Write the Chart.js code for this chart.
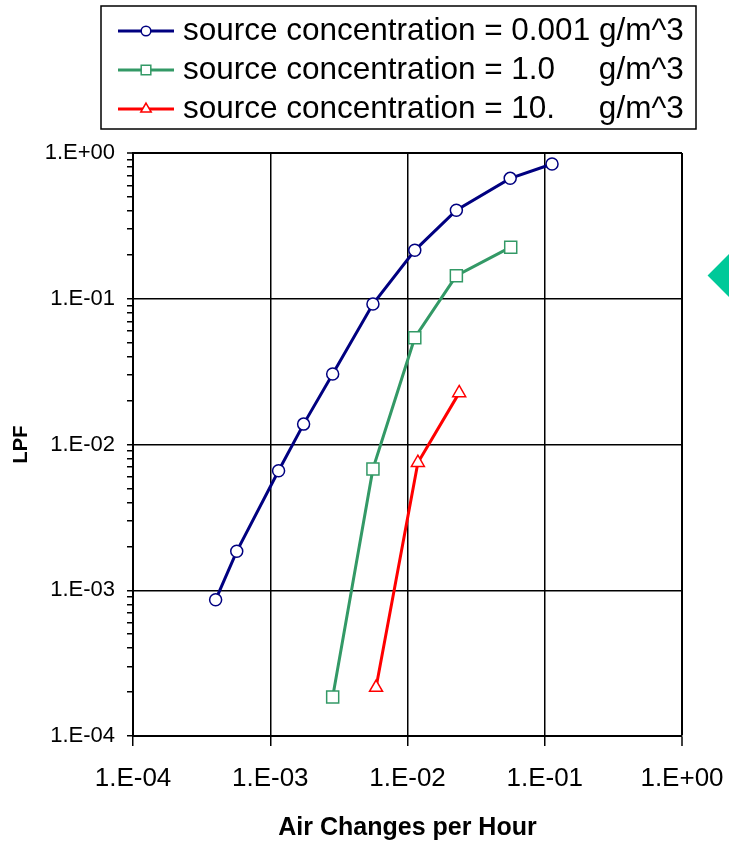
<!DOCTYPE html>
<html lang="en">
<head>
    <meta charset="UTF-8">
    <title>LPF vs Air Changes per Hour</title>
    <style>
        body {
            margin: 0;
            background: #fff;
            overflow: hidden;
        }

        .wrap {
            position: relative;
            width: 729px;
            height: 841px;
            overflow: hidden;
        }

        /* green diamond peeking in at the right edge */
        .diamond {
            position: absolute;
            left: 714px;
            top: 260px;
            width: 31px;
            height: 31px;
            background: #00c999;
            transform: rotate(45deg);
        }
    </style>
</head>
<body>
    <div class="wrap">
        <canvas id="lpfChart" width="729" height="841"></canvas>
        <div class="diamond"></div>
    </div>

    <script src="https://cdn.jsdelivr.net/npm/chart.js"></script>
    <script>
        // series labels
        const seriesLabels = [
            'source concentration = 0.001 g/m^3',
            'source concentration = 1.0     g/m^3',
            'source concentration = 10.     g/m^3'
        ];

        // 0.001 g/m^3
        const lowAch = [4.0e-4, 5.7e-4, 1.15e-3, 1.75e-3, 2.85e-3, 5.6e-3, 1.13e-2, 2.27e-2, 5.6e-2, 0.113];
        const lowLpf = [8.6e-4, 1.85e-3, 6.6e-3, 1.38e-2, 3.05e-2, 9.2e-2, 0.215, 0.405, 0.67, 0.84];

        // 1.0 g/m^3
        const midAch = [2.85e-3, 5.6e-3, 1.13e-2, 2.27e-2, 5.65e-2];
        const midLpf = [1.85e-4, 6.8e-3, 5.4e-2, 0.144, 0.226];

        // 10. g/m^3
        const highAch = [5.9e-3, 1.19e-2, 2.38e-2];
        const highLpf = [2.15e-4, 7.5e-3, 2.26e-2];

        // axis ticks
        const xTickValues = [1e-4, 1e-3, 1e-2, 1e-1, 1];
        const xTickLabels = ['1.E-04', '1.E-03', '1.E-02', '1.E-01', '1.E+00'];
        const yTickValues = [1e-4, 1e-3, 1e-2, 1e-1, 1];
        const yTickLabels = ['1.E-04', '1.E-03', '1.E-02', '1.E-01', '1.E+00'];
        const yMinorSteps = [2, 3, 4, 5, 6, 7, 8, 9];

        const FONT = "'Liberation Sans', Arial, sans-serif";
        Chart.defaults.font.family = FONT;
        Chart.defaults.color = '#000';

        function toPoints(xs, ys) {
            return xs.map((x, i) => ({ x: x, y: ys[i] }));
        }

        function isDecade(v) {
            const l = Math.log10(v);
            return Math.abs(l - Math.round(l)) < 1e-6;
        }

        function labelFor(values, labels, v) {
            const i = values.findIndex(t => Math.abs(t / v - 1) < 1e-6);
            return i >= 0 ? labels[i] : '';
        }

        // legend drawn in a box above the plot, line + marker like the original
        const boxLegend = {
            id: 'boxLegend',
            afterDraw(chart) {
                const ctx = chart.ctx;
                ctx.save();
                ctx.strokeStyle = '#000';
                ctx.lineWidth = 1.5;
                ctx.strokeRect(101, 6, 595, 123);

                chart.data.datasets.forEach((ds, i) => {
                    const y = 31 + i * 39;
                    ctx.strokeStyle = ds.borderColor;
                    ctx.lineWidth = 3;
                    ctx.beginPath();
                    ctx.moveTo(118, y);
                    ctx.lineTo(174, y);
                    ctx.stroke();

                    ctx.fillStyle = '#fff';
                    ctx.lineWidth = 1.5;
                    Chart.helpers.drawPoint(ctx, {
                        pointStyle: ds.pointStyle,
                        radius: ds.pointRadius * 0.8,
                        rotation: 0,
                        borderWidth: 1.5
                    }, 146, y);

                    ctx.fillStyle = '#000';
                    ctx.font = '31.5px ' + FONT;
                    ctx.textAlign = 'left';
                    ctx.textBaseline = 'middle';
                    ctx.fillText(ds.label, 183, y);
                });
                ctx.restore();
            }
        };

        const ctx = document.getElementById('lpfChart').getContext('2d');
        const lpfChart = new Chart(ctx, {
            type: 'scatter',
            data: {
                datasets: [{
                    label: seriesLabels[0],
                    data: toPoints(lowAch, lowLpf),
                    showLine: true,
                    borderColor: '#000080',
                    borderWidth: 3,
                    pointStyle: 'circle',
                    pointRadius: 6,
                    pointBorderWidth: 1.5,
                    pointBackgroundColor: '#fff',
                    pointBorderColor: '#000080'
                }, {
                    label: seriesLabels[1],
                    data: toPoints(midAch, midLpf),
                    showLine: true,
                    borderColor: '#339966',
                    borderWidth: 3,
                    pointStyle: 'rect',
                    pointRadius: 8.5,
                    pointBorderWidth: 1.5,
                    pointBackgroundColor: '#fff',
                    pointBorderColor: '#339966'
                }, {
                    label: seriesLabels[2],
                    data: toPoints(highAch, highLpf),
                    showLine: true,
                    borderColor: '#ff0000',
                    borderWidth: 3,
                    pointStyle: 'triangle',
                    pointRadius: 7.5,
                    pointBorderWidth: 1.5,
                    pointBackgroundColor: '#fff',
                    pointBorderColor: '#ff0000'
                }]
            },
            options: {
                responsive: false,
                animation: false,
                layout: {
                    padding: { left: 0, top: 153, right: 47, bottom: 0 }
                },
                plugins: {
                    legend: { display: false },
                    tooltip: { enabled: false }
                },
                scales: {
                    x: {
                        type: 'logarithmic',
                        min: 1e-4,
                        max: 1,
                        afterBuildTicks: scale => {
                            scale.ticks = xTickValues.map(v => ({ value: v, major: true }));
                        },
                        afterFit: scale => {
                            scale.height = 105;
                            scale.paddingLeft = 0;
                            scale.paddingRight = 0;
                        },
                        grid: {
                            color: '#000',
                            lineWidth: c => (c.tick && c.tick.value === 1) ? 2 : 1.5,
                            tickColor: '#000',
                            tickWidth: 1.5,
                            tickLength: 10
                        },
                        border: { color: '#000', width: 2 },
                        ticks: {
                            autoSkip: false,
                            maxRotation: 0,
                            padding: 17,
                            font: { size: 26 },
                            callback: v => labelFor(xTickValues, xTickLabels, v)
                        },
                        title: {
                            display: true,
                            text: 'Air Changes per Hour',
                            font: { size: 25, weight: 'bold' },
                            padding: { top: 0, bottom: -2 }
                        }
                    },
                    y: {
                        type: 'logarithmic',
                        min: 1e-4,
                        max: 1,
                        afterBuildTicks: scale => {
                            const ticks = [];
                            yTickValues.forEach((d, i) => {
                                ticks.push({ value: d, major: true });
                                if (i < yTickValues.length - 1) {
                                    yMinorSteps.forEach(s => ticks.push({ value: d * s, major: false }));
                                }
                            });
                            scale.ticks = ticks;
                        },
                        afterFit: scale => {
                            scale.width = 133;
                            scale.paddingTop = 0;
                            scale.paddingBottom = 0;
                        },
                        grid: {
                            color: c => (c.tick && isDecade(c.tick.value)) ? '#000' : 'rgba(0,0,0,0)',
                            lineWidth: c => (c.tick && c.tick.value === 1) ? 2 : 1.5,
                            tickColor: '#000',
                            tickWidth: 1.5,
                            tickLength: 6
                        },
                        border: { color: '#000', width: 2 },
                        ticks: {
                            autoSkip: false,
                            padding: 12,
                            font: { size: 22 },
                            callback: v => labelFor(yTickValues, yTickLabels, v)
                        },
                        title: {
                            display: true,
                            text: 'LPF',
                            font: { size: 20, weight: 'bold' },
                            padding: { top: 9, bottom: 0 }
                        }
                    }
                }
            },
            plugins: [boxLegend]
        });
    </script>
</body>
</html>
